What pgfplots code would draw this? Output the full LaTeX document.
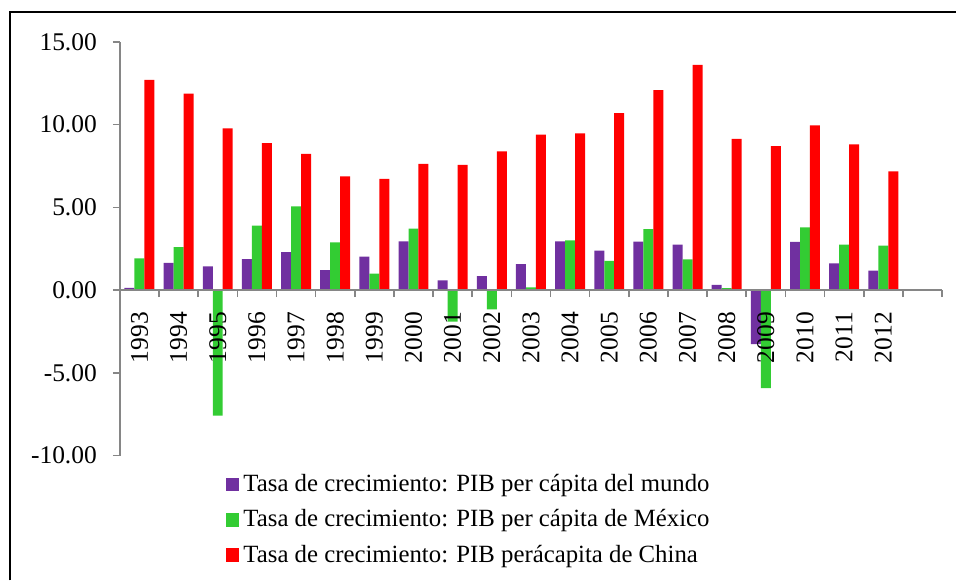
\documentclass[border=0pt]{standalone}
\usepackage{fontspec}
\setmainfont{Liberation Serif}
\usepackage{pgfplots}
\pgfplotsset{compat=1.18}
\usepackage{pgfplotstable}

\definecolor{mundo}{HTML}{7030A0}
\definecolor{mexico}{HTML}{33CC33}
\definecolor{china}{HTML}{FF0000}
\definecolor{axisgray}{HTML}{868686}

% x = 0..19 -> 1993..2012
\pgfplotstableread{
x  mundo  mexico  china
0  0.14   1.91   12.71
1  1.65   2.59   11.87
2  1.43  -7.59    9.78
3  1.87   3.89    8.89
4  2.29   5.06    8.23
5  1.20   2.89    6.87
6  2.03   1.00    6.73
7  2.95   3.71    7.63
8  0.58  -1.91    7.57
9  0.84  -1.16    8.39
10 1.57   0.16    9.40
11 2.95   3.01    9.48
12 2.39   1.77   10.70
13 2.93   3.69   12.09
14 2.75   1.85   13.61
15 0.32   0.12    9.14
16 -3.27 -5.92    8.71
17 2.91   3.79    9.96
18 1.62   2.75    8.81
19 1.18   2.69    7.17
}\datatable

\begin{document}
\begin{tikzpicture}
\def\fs{\fontsize{12.75}{15}\selectfont}
\def\lfs{\fontsize{12.4}{15}\selectfont}
\begin{axis}[
    scale only axis,
    width=411.5pt, height=207pt,
    anchor=south west, at={(0,0)},
    clip=false,
    axis on top,
    ybar=0pt, bar width=5pt,
    xmin=-0.5, xmax=20.5,
    ymin=-10, ymax=15,
    axis x line=middle,
    axis y line=left,
    axis line style={axisgray, line width=0.8pt, -},
    tick style={axisgray, line width=0.8pt},
    tick align=outside,
    major tick length=3.5pt,
    minor tick length=3.5pt,
    hide obscured x ticks=false,
    xtick={0,...,19},
    xticklabels={1993,1994,1995,1996,1997,1998,1999,2000,2001,2002,2003,2004,2005,2006,2007,2008,2009,2010,2011,2012},
    minor xtick={-0.5,0.5,...,20.5},
    major x tick style={draw=none},
    xticklabel style={rotate=90, anchor=east, font=\fs, xshift=-4pt},
    ytick={-10,-5,0,5,10,15},
    yticklabel style={font=\fs, xshift=-4.5pt},
    /pgf/number format/.cd, fixed, fixed zerofill, precision=2, assume math mode=true,
    /pgfplots/.cd,
    legend style={at={(0.128,-0.035)}, anchor=north west, draw=none, fill=none,
        font=\lfs, row sep=3.5pt, inner sep=0pt,
        /tikz/every even column/.append style={column sep=3pt}},
    legend cell align=left,
    legend image code/.code={\fill[#1] (0pt,-3.5pt) rectangle (7pt,3.5pt);},
]
\addplot[draw=none, fill=mundo] table[x=x, y=mundo] {\datatable};
\addplot[draw=none, fill=mexico] table[x=x, y=mexico] {\datatable};
\addplot[draw=none, fill=china] table[x=x, y=china] {\datatable};
\legend{Tasa de crecimiento: PIB per cápita del mundo,
        Tasa de crecimiento: PIB per cápita de México,
        Tasa de crecimiento: PIB perácapita de China}
\coordinate (sw) at (rel axis cs:0,0);
\end{axis}
\pgfresetboundingbox
\path ([shift={(-60pt,-62.5pt)}]sw) rectangle ([shift={(418.5pt,228pt)}]sw);
\draw[line width=1pt] ([shift={(-55pt,-62.5pt)}]sw) -- ([shift={(-55pt,222pt)}]sw) -- ([shift={(418.5pt,222pt)}]sw);
\end{tikzpicture}
\end{document}
